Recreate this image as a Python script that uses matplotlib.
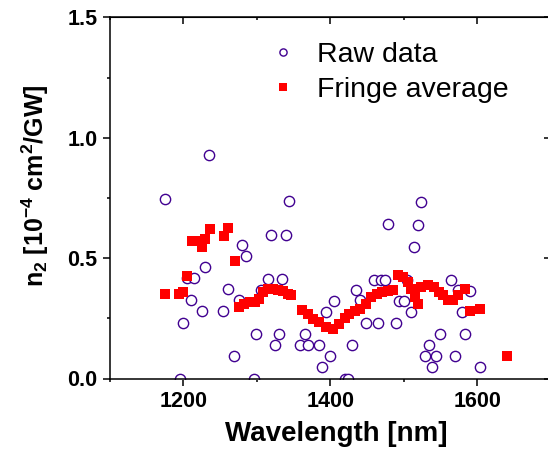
import numpy as np
import matplotlib
matplotlib.use("Agg")
import matplotlib.pyplot as plt
from matplotlib.ticker import MultipleLocator, FormatStrFormatter

plt.rcParams['font.family'] = ['Liberation Sans', 'DejaVu Sans']
plt.rcParams['mathtext.fontset'] = 'custom'
plt.rcParams['mathtext.rm'] = 'Liberation Sans:bold'
plt.rcParams['mathtext.bf'] = 'Liberation Sans:bold'
plt.rcParams['mathtext.default'] = 'bf'

# raw measurements (open circles)
raw_wl = [1175.5, 1195, 1200, 1204.5, 1210, 1215, 1225.5, 1230, 1235, 1254.5,
          1260, 1269.5, 1275, 1280, 1284.5, 1295.5, 1299, 1306, 1315, 1319.5,
          1324, 1330, 1334, 1339.5, 1344, 1359, 1365, 1370, 1384.6, 1389,
          1394.6, 1399.5, 1405, 1419.5, 1424, 1430, 1434.5, 1440, 1449, 1459,
          1464.6, 1469.6, 1475, 1479, 1489, 1493, 1499.6, 1504.5, 1509.5, 1514,
          1519.5, 1524, 1528.6, 1534.5, 1538.6, 1544.5, 1549, 1564, 1569.5, 1574,
          1578.7, 1584, 1590, 1604]
raw_n2 = [0.745, 0.0, 0.232, 0.418, 0.324, 0.418, 0.279, 0.464, 0.927, 0.279,
          0.370, 0.093, 0.324, 0.553, 0.508, 0.0, 0.185, 0.368, 0.414, 0.597,
          0.139, 0.185, 0.414, 0.597, 0.736, 0.139, 0.185, 0.139, 0.139, 0.046,
          0.275, 0.092, 0.320, 0.0, 0.0, 0.139, 0.368, 0.324, 0.231, 0.411,
          0.231, 0.411, 0.411, 0.640, 0.231, 0.320, 0.320, 0.411, 0.275, 0.547,
          0.639, 0.731, 0.092, 0.139, 0.046, 0.092, 0.185, 0.411, 0.092, 0.368,
          0.275, 0.185, 0.365, 0.046]

# fringe-averaged values (filled squares)
avg_wl = [1175.5, 1194.5, 1200, 1205.5, 1212, 1222, 1225.5, 1230, 1235.5, 1255,
          1260.5, 1270, 1275.5, 1283, 1290, 1298, 1303, 1308, 1315, 1322,
          1329, 1335, 1342, 1347, 1362, 1369, 1376, 1385, 1394, 1403,
          1412, 1420, 1426, 1433, 1440, 1449, 1456, 1463, 1470, 1478,
          1485, 1492, 1499, 1506, 1510, 1515, 1520, 1524, 1533, 1541,
          1548, 1553, 1560, 1567, 1574, 1583, 1590, 1604, 1640]
avg_n2 = [0.350, 0.349, 0.360, 0.424, 0.572, 0.572, 0.546, 0.581, 0.620, 0.590,
          0.625, 0.488, 0.296, 0.310, 0.317, 0.317, 0.330, 0.358, 0.372, 0.372,
          0.368, 0.365, 0.352, 0.345, 0.285, 0.268, 0.247, 0.233, 0.212, 0.206,
          0.225, 0.250, 0.268, 0.282, 0.289, 0.310, 0.338, 0.352, 0.358, 0.362,
          0.368, 0.428, 0.421, 0.400, 0.372, 0.338, 0.310, 0.382, 0.390, 0.379,
          0.360, 0.345, 0.324, 0.324, 0.345, 0.372, 0.282, 0.289, 0.092]

fig = plt.figure(figsize=(5.48, 4.51), dpi=100)
ax = fig.add_axes([110 / 548, 72.5 / 451, 440.7 / 548, 361.2 / 451])

ax.plot(raw_wl, raw_n2, linestyle='none', marker='o', markersize=7.4,
        markerfacecolor='white', markeredgecolor='#400090', markeredgewidth=1.0,
        label='Raw data')
ax.plot(avg_wl, avg_n2, linestyle='none', marker='s', markersize=7.5,
        markerfacecolor='#ff0000', markeredgecolor='#ff0000', markeredgewidth=0,
        label='Fringe average')

ax.set_xlim(1100, 1700)
ax.set_ylim(0, 1.5)
ax.xaxis.set_major_locator(MultipleLocator(200))
ax.xaxis.set_minor_locator(MultipleLocator(100))
ax.yaxis.set_major_locator(MultipleLocator(0.5))
ax.yaxis.set_minor_locator(MultipleLocator(0.25))
ax.yaxis.set_major_formatter(FormatStrFormatter('%.1f'))

for s in ax.spines.values():
    s.set_linewidth(1.1)
ax.tick_params(which='major', direction='out', length=5, width=1.1,
               labelsize=15.5, pad=4)
ax.tick_params(which='minor', direction='out', length=2.5, width=1.1)
for lab in ax.get_xticklabels() + ax.get_yticklabels():
    lab.set_fontweight('bold')

# mirrored ticks on top and right, pointing inwards
top = ax.secondary_xaxis('top')
top.xaxis.set_major_locator(MultipleLocator(200))
top.xaxis.set_minor_locator(MultipleLocator(100))
top.tick_params(which='major', direction='in', length=5, width=1.1, labeltop=False)
top.tick_params(which='minor', direction='in', length=2.5, width=1.1)
right = ax.secondary_yaxis('right')
right.yaxis.set_major_locator(MultipleLocator(0.5))
right.yaxis.set_minor_locator(MultipleLocator(0.25))
right.tick_params(which='major', direction='in', length=5, width=1.1, labelright=False)
right.tick_params(which='minor', direction='in', length=2.5, width=1.1)

ax.set_xlabel('Wavelength [nm]', fontsize=20, fontweight='bold')
ax.xaxis.set_label_coords(0.514, -0.118)
ax.set_ylabel('n$_2$ [10$^{-4}$ cm$^2$/GW]', fontsize=18, fontweight='bold')
ax.yaxis.set_label_coords(-0.135, 0.533)

ax.legend(loc='upper left', bbox_to_anchor=(0.3606, 0.932), frameon=False,
          fontsize=20.5, handlelength=1.0, handletextpad=0.69, labelspacing=0.33,
          borderpad=0, borderaxespad=0, markerscale=0.7)

fig.savefig('out.png', dpi=100)
